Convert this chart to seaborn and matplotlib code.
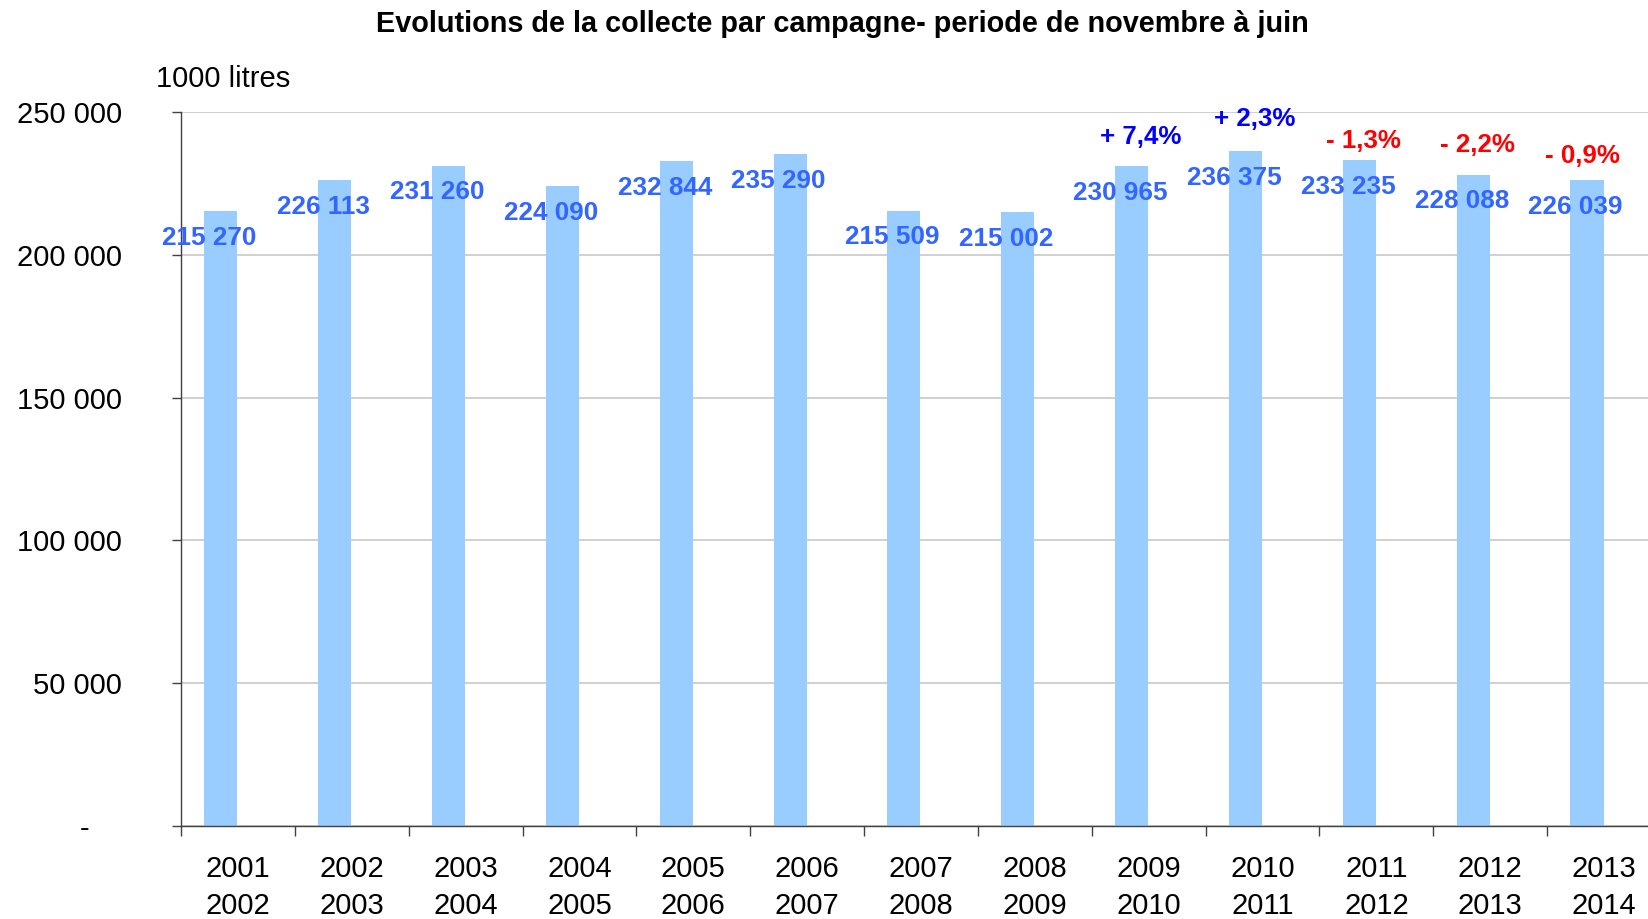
import matplotlib
matplotlib.use("Agg")
import matplotlib.pyplot as plt
import seaborn as sns
import pandas as pd

campaigns = ["2001\n2002", "2002\n2003", "2003\n2004", "2004\n2005", "2005\n2006",
             "2006\n2007", "2007\n2008", "2008\n2009", "2009\n2010", "2010\n2011",
             "2011\n2012", "2012\n2013", "2013\n2014"]
collecte = [215270, 226113, 231260, 224090, 232844, 235290, 215509, 215002,
            230965, 236375, 233235, 228088, 226039]
variation = ["", "", "", "", "", "", "", "", "+ 7,4%", "+ 2,3%", "- 1,3%", "- 2,2%", "- 0,9%"]
yticks = [0, 50000, 100000, 150000, 200000, 250000]

title = "Evolutions de la collecte par campagne- periode de novembre à juin"
unit_label = "1000 litres"

sns.set_theme(style="white")
plt.rcParams['font.family'] = ['Liberation Sans', 'DejaVu Sans']

df = pd.DataFrame({"campagne": campaigns, "collecte": collecte})

fig = plt.figure(figsize=(16.48, 9.19), dpi=100)
ax = fig.add_axes([181/1648, 93/919, 1480/1648, 714/919])

sns.barplot(data=df, x="campagne", y="collecte", color="#99CCFF", width=0.29,
            saturation=1, ax=ax)
for p in ax.patches:
    p.set_x(p.get_x() - 0.15)
    p.set_edgecolor("none")

ax.set_xlim(-0.5, len(campaigns) - 0.5)
ax.set_ylim(0, 250000)
ax.set_xlabel("")
ax.set_ylabel("")

def fmt(v):
    return f"{int(v):,}".replace(",", " ")

ax.set_yticks(yticks)
ax.set_yticklabels([fmt(v) if v else "-    " for v in yticks], fontsize=21, color="black")
ax.yaxis.grid(True, color="#C8C8C8", linewidth=1.2)
ax.set_axisbelow(True)
ax.tick_params(axis="y", which="major", left=True, length=6.5, width=1, color="#404040", pad=36)

ax.set_xticks(range(len(campaigns)))
ax.set_xticklabels(campaigns, fontsize=21, color="black", linespacing=1.38)
ax.set_xticks([i - 0.5 for i in range(len(campaigns) + 1)], minor=True)
ax.tick_params(axis="x", which="major", bottom=False, length=0, pad=21)
ax.tick_params(axis="x", which="minor", bottom=True, length=7, width=1, color="#404040")

for s in ["top", "right"]:
    ax.spines[s].set_visible(False)
for s in ["left", "bottom"]:
    ax.spines[s].set_color("#404040")
    ax.spines[s].set_linewidth(1)

for i, v in enumerate(collecte):
    ax.text(i - 0.25, v - 9400, fmt(v), ha="center", va="center", fontsize=18.8,
            fontweight="bold", color="#3366FF")

pct_dx = [0, 0, 0, 0, 0, 0, 0, 0, -0.067, -0.07, -0.11, -0.115, -0.19]
pct_dy = [0, 0, 0, 0, 0, 0, 0, 0, 10150, 11200, 6650, 10500, 8400]
for i, (v, t) in enumerate(zip(collecte, variation)):
    if not t:
        continue
    col = "#0000FF" if t.startswith("+") else "#FF0000"
    ax.text(i + pct_dx[i], v + pct_dy[i], t, ha="center", va="center", fontsize=18.6,
            fontweight="bold", color=col)

fig.text(842/1648, 1 - 24/919, title, ha="center", va="center", fontsize=20.8,
         fontweight="bold", color="black")
fig.text(156/1648, 1 - 79/919, unit_label, ha="left", va="center", fontsize=21, color="black")

fig.savefig("out.png", dpi=100)
